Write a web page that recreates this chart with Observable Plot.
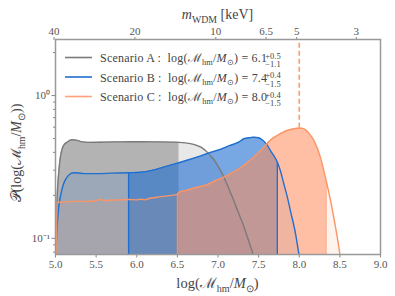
<!DOCTYPE html>
<html><head><meta charset="utf-8">
<script src="https://cdn.jsdelivr.net/npm/d3@7"></script>
<script src="https://cdn.jsdelivr.net/npm/@observablehq/plot@0.6"></script>
<style>
body{margin:0;background:#fff;}
#chart{width:395px;height:296px;position:relative;}
</style></head><body><div id="chart"></div>
<script>
// ---------- data ----------
const xA = [5.0, 5.01, 5.02, 5.04, 5.06, 5.08, 5.10, 5.14, 5.20, 5.27, 5.33, 5.45, 5.6, 5.8, 6.0, 6.2, 6.4, 6.52, 6.6, 6.7, 6.8, 6.88, 6.92, 6.97, 7.0, 7.03, 7.07, 7.13, 7.19, 7.25, 7.32, 7.38, 7.43, 7.46];
const yA = [0.05, 0.12, 0.19, 0.29, 0.37, 0.42, 0.447, 0.47, 0.49, 0.485, 0.474, 0.47, 0.472, 0.474, 0.475, 0.474, 0.472, 0.47, 0.466, 0.455, 0.432, 0.395, 0.372, 0.342, 0.32, 0.30, 0.27, 0.225, 0.186, 0.152, 0.12, 0.095, 0.078, 0.068];

const xB = [5.0, 5.01, 5.02, 5.04, 5.06, 5.08, 5.10, 5.13, 5.16, 5.22, 5.28, 5.35, 5.5, 5.7, 5.9, 6.05, 6.2, 6.33, 6.5, 6.62, 6.74, 6.91, 7.03, 7.15, 7.25, 7.32, 7.38, 7.44, 7.5, 7.544, 7.6, 7.646, 7.73, 7.77, 7.81, 7.85, 7.89, 7.954, 7.995, 8.03];
const yB = [0.05, 0.09, 0.12, 0.166, 0.195, 0.22, 0.241, 0.262, 0.276, 0.288, 0.287, 0.284, 0.284, 0.286, 0.288, 0.29, 0.30, 0.315, 0.336, 0.352, 0.37, 0.40, 0.42, 0.447, 0.47, 0.498, 0.506, 0.511, 0.506, 0.49, 0.455, 0.412, 0.342, 0.295, 0.241, 0.198, 0.157, 0.108, 0.078, 0.06];

const xC = [5.0, 5.012, 5.018, 5.04, 5.1, 5.2, 5.3, 5.4, 5.5, 5.55, 5.6, 5.7, 5.8, 5.9, 6.0, 6.05, 6.1, 6.15, 6.2, 6.3, 6.4, 6.5, 6.52, 6.6, 6.74, 6.85, 6.91, 6.97, 7.03, 7.07, 7.15, 7.25, 7.318, 7.45, 7.564, 7.65, 7.73, 7.85, 7.92, 7.975, 8.03, 8.077, 8.13, 8.18, 8.26, 8.33, 8.385, 8.446, 8.5, 8.53];
const yC = [0.05, 0.1, 0.178, 0.179, 0.18, 0.181, 0.182, 0.181, 0.184, 0.187, 0.184, 0.185, 0.186, 0.187, 0.186, 0.188, 0.186, 0.19, 0.192, 0.196, 0.199, 0.203, 0.21, 0.216, 0.228, 0.236, 0.244, 0.254, 0.262, 0.268, 0.284, 0.305, 0.324, 0.375, 0.435, 0.49, 0.525, 0.569, 0.583, 0.59, 0.59, 0.575, 0.535, 0.485, 0.37, 0.255, 0.184, 0.12, 0.078, 0.06];

// credible intervals (as drawn)
const ciA = [5.0, 6.52];
const ciB = [5.9, 7.73];
const ciC = [6.5, 8.33];

const scenarioNames = ["Scenario A", "Scenario B", "Scenario C"];
const centralVals = ["6.1", "7.4", "8.0"];
const plusErr = ["+0.5", "+0.4", "+0.4"];
const minusErr = ["\u22121.1", "\u22121.5", "\u22121.5"];

const xTicks = [5.0, 5.5, 6.0, 6.5, 7.0, 7.5, 8.0, 8.5, 9.0];
const mTicks = [40, 20, 10, 6.5, 5, 3];
const mLabels = ["40", "20", "10", "6.5", "5", "3"];
const yMajor = [0.1, 1];
const yMajorLabels = ["10\u207B\u00B9", "10\u2070"];
const yMinor = [0.08, 0.09, 0.2, 0.3, 0.4, 0.5, 0.6, 0.7, 0.8, 0.9, 2];

const dashX = 8.0;

// ---------- styling ----------
const W = 395, H = 296, mL = 55, mR = 15, mT = 39, mB = 42;
const FONT = "Liberation Serif, serif";
const yDomain = [0.077, 2.47];
const BASE = 0.03;
const cGray = "#808080", cBlue = "#1e6ed2", cOrange = "#ff8c5a";
const lGray = "#7a7a7a", lBlue = "#1f6fd0", lOrange = "#fa9565";

const rows = (xs, ys) => xs.map((x, i) => ({x, y: ys[i]}));
const A = rows(xA, yA), B = rows(xB, yB), C = rows(xC, yC);
const seg = (d, ci) => d.filter(p => p.x >= ci[0] - 1e-9 && p.x <= ci[1] + 1e-9);
const ends = (d, ci) => d.filter(p => Math.abs(p.x - ci[0]) < 1e-9 || Math.abs(p.x - ci[1]) < 1e-9);
const toLogM = m => 10.28 - 3.307 * Math.log10(m);
const topPos = mTicks.map(toLogM);

function area(data, color, op) {
  return Plot.areaY(data, {x: "x", y1: BASE, y2: "y", fill: color, fillOpacity: op, curve: "monotone-x", clip: true});
}
function line(data, color) {
  return Plot.line(data, {x: "x", y: "y", stroke: color, strokeWidth: 1.4, curve: "monotone-x", clip: true});
}

const plot = Plot.plot({
  width: W, height: H,
  marginLeft: mL, marginRight: mR, marginTop: mT, marginBottom: mB,
  style: {fontFamily: FONT, fontSize: "11px", color: "#555", background: "#fff"},
  x: {domain: [5, 9]},
  y: {type: "log", domain: yDomain},
  marks: [
    area(A, cGray, 0.18),
    area(seg(A, ciA), cGray, 0.51),
    area(B, cBlue, 0.15),
    area(seg(B, ciB), cBlue, 0.53),
    area(C, cOrange, 0.1),
    area(seg(C, ciC), cOrange, 0.5),
    Plot.ruleX(ends(B, ciB), {x: "x", y1: BASE, y2: "y", stroke: lBlue, strokeWidth: 1.4, clip: true}),
    Plot.ruleX(ends(C, ciC).filter(p => p.x > 5.01), {x: "x", y1: BASE, y2: "y", stroke: lOrange, strokeWidth: 1.2, strokeOpacity: 0.8, clip: true}),
    line(A, lGray),
    line(B, lBlue),
    line(C, lOrange),
    Plot.ruleX([{x: dashX, y: d3.max(yC)}], {x: "x", y1: "y", y2: yDomain[1], stroke: "#ff9966", strokeWidth: 1.6, strokeDasharray: "5,3"}),
    Plot.axisX({ticks: xTicks, tickFormat: d3.format(".1f"), tickSize: 3.5, tickPadding: 2, label: null, stroke: "#888"}),
    Plot.axisX({anchor: "top", ticks: topPos, tickFormat: d => mLabels[topPos.indexOf(d)], tickSize: 3, tickPadding: 2, label: null, stroke: "#888"}),
    Plot.axisY({ticks: yMajor, tickFormat: d => yMajorLabels[yMajor.indexOf(d)], tickSize: 3.5, tickPadding: 2, label: null, stroke: "#888"}),
    Plot.axisY({ticks: yMinor, tickFormat: () => "", tickSize: 2, label: null, stroke: "#888"}),
    Plot.frame({stroke: "#999", strokeWidth: 1.5})
  ]
});
document.getElementById("chart").appendChild(plot);

// ---------- math-like text via tspans ----------
const svg = d3.select(plot);
function mathText(x, y, segs, size, anchor, transform) {
  const t = svg.append("text").attr("x", x).attr("y", y)
    .attr("font-family", FONT).attr("font-size", size).attr("fill", "#444")
    .attr("text-anchor", anchor || "start");
  if (transform) t.attr("transform", transform).attr("x", 0).attr("y", 0);
  let off = 0;
  for (const [s, k] of segs) {
    const ts = t.append("tspan").text(s);
    let target = 0;
    if (k === "b") target = size * 0.28;
    if (k === "p") target = -size * 0.4;
    if (target !== off) { ts.attr("dy", target - off); off = target; }
    if (k === "b" || k === "p") ts.attr("font-size", size * 0.7);
    if (k === "i") ts.attr("font-style", "italic");
  }
  return t;
}
const ratio = [["log(", "r"], ["\u2133", "r"], ["hm", "b"], ["/", "r"], ["M", "i"], ["\u2299", "b"], [")", "r"]];
const plotCx = (mL + W - mR) / 2;
// bottom label
mathText(plotCx, 288, ratio, 14.5, "middle");
// top label
mathText(plotCx, 19, [["m", "i"], ["WDM", "b"], [" [keV]", "r"]], 14, "middle");
// left label
mathText(0, 0, [["\uD835\uDCAB", "r"], ["(", "r"], ...ratio, [")", "r"]], 14, "middle", "translate(21,153) rotate(-90)");

// legend
const legColors = [lGray, lBlue, "#ffa07a"];
const legY = [57.5, 77, 96.5];
scenarioNames.forEach((name, i) => {
  const y = legY[i];
  svg.append("line").attr("x1", 65).attr("x2", 92).attr("y1", y).attr("y2", y)
    .attr("stroke", legColors[i]).attr("stroke-width", 1.6);
  mathText(100, y + 4.5, [[name + " :  ", "r"], ...ratio, [" = " + centralVals[i], "r"]], 12)
    .attr("textLength", 167).attr("lengthAdjust", "spacing");
  const xe = 273;
  svg.append("text").attr("x", xe).attr("y", y + 1).attr("font-family", FONT)
    .attr("font-size", 8.5).attr("fill", "#444").text(plusErr[i]);
  svg.append("text").attr("x", xe).attr("y", y + 9.5).attr("font-family", FONT)
    .attr("font-size", 8.5).attr("fill", "#444").text(minusErr[i]);
});
</script></body></html>
